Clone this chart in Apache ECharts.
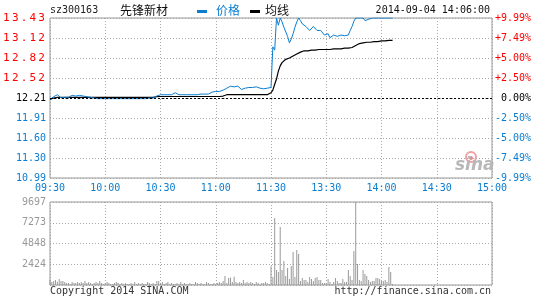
<!DOCTYPE html>
<html><head><meta charset="utf-8">
<script src="https://cdn.jsdelivr.net/npm/echarts@6/dist/echarts.min.js"></script>
<style>html,body{margin:0;padding:0;background:#fff}#c{width:545px;height:300px}</style>
</head><body><div id="c"></div>
<script>
// ---- data ----
const leftTicks = ['10.99','11.30','11.60','11.91','12.21','12.52','12.82','13.12','13.43'];
const rightTicks = ['-9.99%','-7.49%','-5.00%','-2.50%',' 0.00%','+2.50%','+5.00%','+7.49%','+9.99%'];
const volTicks = ['','2424','4848','7273','9697'];
const timeLabels = ['09:30','10:00','10:30','11:00','11:30','13:30','14:00','14:30','15:00'];

const price = [
12.19,12.20,12.23,12.25,12.26,12.24,12.21,12.19,12.22,12.21,
12.22,12.24,12.25,12.25,12.24,12.25,12.25,12.24,12.24,12.23,
12.23,12.23,12.22,12.22,12.21,12.20,12.20,12.21,12.20,12.20,
12.20,12.19,12.20,12.20,12.20,12.20,12.20,12.21,12.20,12.20,
12.20,12.20,12.20,12.21,12.20,12.19,12.20,12.20,12.20,12.19,
12.20,12.21,12.20,12.20,12.21,12.21,12.21,12.22,12.24,12.25,
12.26,12.26,12.26,12.26,12.26,12.26,12.26,12.29,12.29,12.26,
12.26,12.26,12.26,12.26,12.26,12.26,12.26,12.26,12.26,12.26,
12.26,12.26,12.27,12.27,12.27,12.27,12.27,12.28,12.30,12.30,
12.31,12.31,12.31,12.31,12.33,12.35,12.36,12.39,12.39,12.37,
12.38,12.37,12.39,12.36,12.34,12.37,12.36,12.34,12.37,12.38,
12.37,12.39,12.38,12.37,12.36,12.36,12.35,12.36,12.36,12.36,
12.37,12.99,12.94,13.43,13.32,13.43,13.37,13.29,13.26,13.15,
13.05,13.11,13.19,13.29,13.37,13.43,13.39,13.34,13.32,13.30,
13.28,13.24,13.27,13.30,13.27,13.24,13.22,13.24,13.21,13.17,
13.15,13.19,13.13,13.16,13.17,13.16,13.15,13.16,13.17,13.16,
13.16,13.17,13.17,13.24,13.30,13.38,13.43,13.41,13.43,13.41,
13.43,13.39,13.38,13.41,13.39,13.43,13.43,13.43,13.43,13.43,
13.43,13.43,13.43,13.43,13.43,13.43,13.43
];

const avgPrice = [
12.19,12.20,12.21,12.215,12.22,12.22,12.22,12.22,12.22,12.22,
12.22,12.22,12.22,12.22,12.22,12.22,12.22,12.22,12.22,12.22,
12.22,12.22,12.22,12.22,12.22,12.22,12.22,12.22,12.22,12.22,
12.22,12.22,12.22,12.22,12.22,12.22,12.22,12.22,12.22,12.22,
12.22,12.22,12.22,12.22,12.22,12.22,12.22,12.22,12.22,12.22,
12.22,12.22,12.22,12.22,12.22,12.22,12.22,12.225,12.23,12.233,
12.233,12.233,12.233,12.233,12.233,12.233,12.233,12.233,12.233,12.233,
12.233,12.233,12.233,12.233,12.233,12.233,12.233,12.233,12.233,12.233,
12.233,12.233,12.233,12.233,12.233,12.233,12.233,12.233,12.233,12.233,
12.233,12.233,12.233,12.233,12.24,12.26,12.26,12.26,12.26,12.26,
12.26,12.26,12.26,12.26,12.26,12.26,12.26,12.26,12.26,12.26,
12.26,12.26,12.26,12.26,12.26,12.26,12.26,12.26,12.26,12.27,
12.29,12.33,12.42,12.50,12.62,12.70,12.75,12.78,12.80,12.81,
12.82,12.83,12.85,12.86,12.88,12.90,12.91,12.92,12.93,12.93,
12.93,12.94,12.94,12.94,12.94,12.94,12.95,12.95,12.95,12.95,
12.95,12.95,12.95,12.96,12.96,12.96,12.96,12.96,12.96,12.96,
12.97,12.97,12.97,12.97,12.98,12.99,13.01,13.03,13.04,13.04,
13.05,13.05,13.06,13.06,13.06,13.07,13.07,13.07,13.07,13.08,
13.08,13.08,13.08,13.08,13.09,13.09,13.09
];

const volume = [
620,350,470,580,390,700,470,470,350,230,
230,120,350,230,230,350,230,350,230,470,
230,350,230,120,230,350,230,470,230,120,
230,350,230,120,120,230,350,230,120,230,
120,230,120,120,230,120,350,120,230,120,
230,120,120,350,230,120,230,120,470,470,
230,350,120,230,350,120,230,120,120,230,
120,350,120,230,120,120,230,120,120,350,
230,120,230,120,120,350,230,120,120,230,
120,230,350,230,470,1050,230,820,890,350,
970,350,230,350,230,580,230,350,230,350,
230,120,350,230,120,230,230,350,230,120,
2180,930,7820,1750,1520,6770,1750,2800,1050,1990,
700,2220,3850,930,4090,3620,470,820,580,580,
350,930,700,470,820,930,580,580,230,230,
230,700,350,120,350,820,470,230,230,700,
350,350,1750,1050,580,3970,9697,2450,580,470,
1750,1280,1050,580,350,470,470,820,820,700,
470,470,580,350,2100,1520,120
];

// minute categories 09:30-11:30, 13:01-15:00
const categories = [];
function pad(n){return (n<10?'0':'')+n;}
for (let m = 9*60+30; m <= 11*60+30; m++) categories.push(pad(Math.floor(m/60))+':'+pad(m%60));
for (let m = 13*60+1; m <= 15*60; m++) categories.push(pad(Math.floor(m/60))+':'+pad(m%60));

// ---- style ----
const MONO = 'DejaVu Sans Mono';
const CJK = 'Noto Sans CJK SC';
const BLUE = '#0b7dd0';
const RED = '#ff0000';
const GRIDC = '#a8a8a8';
const BORDER = '#999999';
const showTick = i => i % 30 === 0;

const chart = echarts.init(document.getElementById('c'), null, {renderer:'canvas'});
chart.setOption({
  animation:false,
  backgroundColor:'#fff',
  grid:[
    {left:50, top:18, width:442, height:160, show:true, borderColor:BORDER, borderWidth:1, backgroundColor:'transparent'},
    {left:50, top:202, width:442, height:83, show:true, borderColor:BORDER, borderWidth:1, backgroundColor:'transparent'}
  ],
  xAxis:[
    {type:'category', gridIndex:0, data:categories, boundaryGap:false,
     axisLine:{show:false}, axisTick:{show:false},
     axisLabel:{interval:(i)=>showTick(i), formatter:(v)=>v, color:BLUE, fontFamily:MONO, fontSize:10, margin:5, showMinLabel:true, showMaxLabel:true},
     splitLine:{show:true, interval:(i)=>showTick(i), lineStyle:{color:GRIDC, type:[1,2], width:1}}},
    {type:'category', gridIndex:1, data:categories, boundaryGap:false,
     axisLine:{show:false}, axisTick:{show:false}, axisLabel:{show:false},
     splitLine:{show:true, interval:(i)=>showTick(i), lineStyle:{color:GRIDC, type:[1,2], width:1}}}
  ],
  yAxis:[
    {type:'value', gridIndex:0, min:10.99, max:13.43, interval:0.305, position:'left',
     axisLine:{show:false}, axisTick:{show:false},
     splitLine:{show:true, lineStyle:{color:GRIDC, type:[1,2], width:1}},
     axisLabel:{margin:4, showMinLabel:true, showMaxLabel:true,
       formatter:(v,i)=>{const s=leftTicks[i]; if(s===undefined) return '';
         if(i>4) return s.split('').map(c=>'{r|'+c+'}').join('');
         if(i===4) return '{k|'+s+'}'; return '{b|'+s+'}';},
       rich:{
         r:{color:RED, fontFamily:MONO, fontSize:11, width:8.8, align:'center'},
         k:{color:'#000', fontFamily:MONO, fontSize:10},
         b:{color:BLUE, fontFamily:MONO, fontSize:10}
       }}},
    {type:'value', gridIndex:0, min:-9.99, max:9.99, interval:2.4975, position:'right',
     axisLine:{show:false}, axisTick:{show:false}, splitLine:{show:false},
     axisLabel:{margin:3, align:'left', showMinLabel:true, showMaxLabel:true,
       formatter:(v,i)=>{const s=rightTicks[i]; if(s===undefined) return '';
         if(i>4) return '{r|'+s+'}'; if(i===4) return '{k|'+s+'}'; return '{b|'+s+'}';},
       rich:{
         r:{color:RED, fontFamily:MONO, fontSize:10},
         k:{color:'#000', fontFamily:MONO, fontSize:10},
         b:{color:BLUE, fontFamily:MONO, fontSize:10}
       }}},
    {type:'value', gridIndex:1, min:0, max:9697, interval:2424.25,
     axisLine:{show:false}, axisTick:{show:false},
     splitLine:{show:true, lineStyle:{color:GRIDC, type:[1,2], width:1}},
     axisLabel:{margin:4, color:'#999', fontFamily:MONO, fontSize:10, showMinLabel:true, showMaxLabel:true,
       formatter:(v,i)=>volTicks[i]===undefined?'':volTicks[i]}}
  ],
  series:[
    {name:'价格', type:'line', xAxisIndex:0, yAxisIndex:0, data:price, showSymbol:false, symbol:'none',
     lineStyle:{color:BLUE, width:1}, itemStyle:{color:BLUE}, z:4,
     markLine:{silent:true, symbol:'none', label:{show:false},
       lineStyle:{color:'#000', type:[2,2], width:1}, data:[{yAxis:12.21}]}},
    {name:'均线', type:'line', xAxisIndex:0, yAxisIndex:0, data:avgPrice, showSymbol:false, symbol:'none',
     lineStyle:{color:'#000', width:1.2}, itemStyle:{color:'#000'}, z:3},
    {name:'成交量', type:'bar', xAxisIndex:1, yAxisIndex:2, data:volume, barWidth:1,
     itemStyle:{color:'#999'}}
  ],
  graphic:[
    {type:'text', left:50, top:5, style:{text:'sz300163', font:'10px "'+MONO+'"', fill:'#222'}},
    {type:'text', left:120, top:4, style:{text:'先锋新材', font:'12px "'+CJK+'"', fill:'#111'}},
    {type:'rect', shape:{x:197, y:10, width:10, height:3}, style:{fill:BLUE}},
    {type:'text', left:216, top:4, style:{text:'价格', font:'12px "'+CJK+'"', fill:BLUE}},
    {type:'rect', shape:{x:250, y:10, width:10, height:3}, style:{fill:'#000'}},
    {type:'text', left:265, top:4, style:{text:'均线', font:'12px "'+CJK+'"', fill:'#111'}},
    {type:'text', right:55, top:5, style:{text:'2014-09-04 14:06:00', font:'10px "'+MONO+'"', fill:'#111', textAlign:'right'}},
    {type:'text', left:50, top:286, style:{text:'Copyright 2014 SINA.COM', font:'10px "'+MONO+'"', fill:'#333'}},
    {type:'text', right:54, top:286, style:{text:'http://finance.sina.com.cn', font:'10px "'+MONO+'"', fill:'#333', textAlign:'right'}},
    {type:'circle', shape:{cx:471, cy:157, r:5}, style:{fill:'none', stroke:'#f4a0a0', lineWidth:2}},
    {type:'circle', shape:{cx:471, cy:158, r:2}, style:{fill:'#ee8888'}},
    {type:'text', left:455, top:157, style:{text:'sina', font:'italic bold 17px "DejaVu Sans"', fill:'#b8b8b8'}}
  ]
});
</script></body></html>
